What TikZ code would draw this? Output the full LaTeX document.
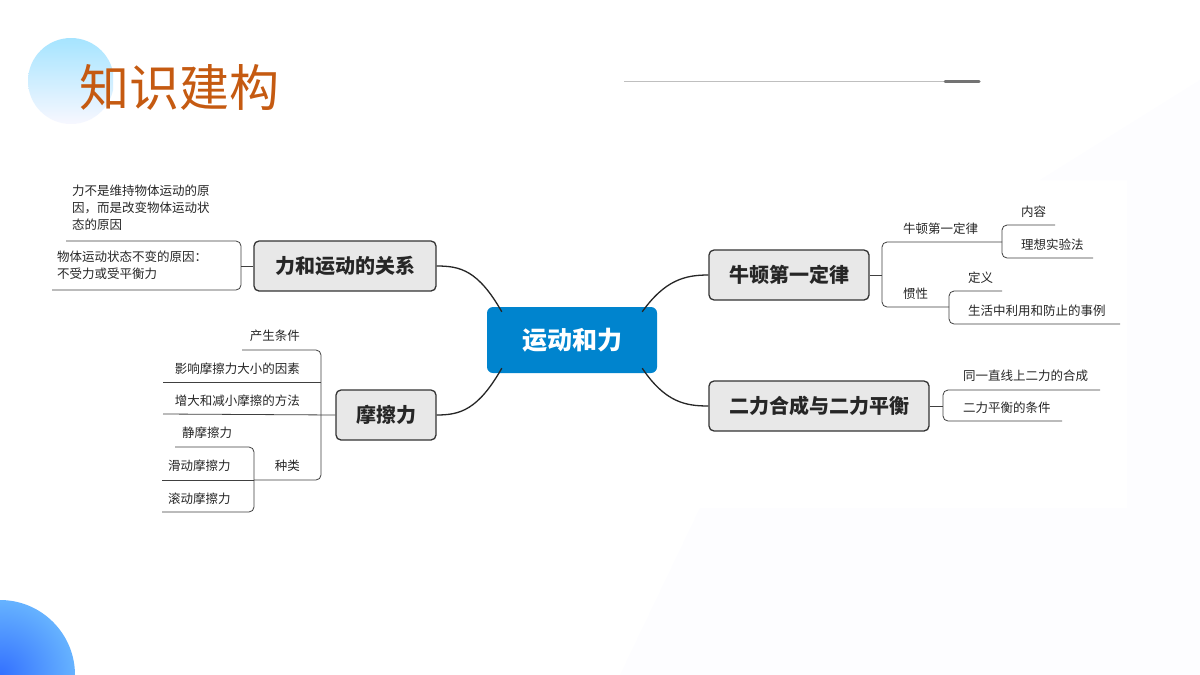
\documentclass[tikz,border=0pt]{standalone}
\usepackage{fontspec}
\setmainfont{Noto Sans CJK SC}
\newfontfamily\cjk{Noto Sans CJK SC}
\begin{document}
\begin{tikzpicture}[x=1pt,y=-1pt,
  box/.style={draw=black!80,line width=1.3pt,fill=black!9,rounded corners=5pt,inner sep=0pt,font=\cjk\fontsize{20}{22}\selectfont\bfseries,text=black!85},
  lbl/.style={inner sep=0pt,font=\cjk\fontsize{12.5}{17}\selectfont,text=black!85},
  ln/.style={draw=black!75,line width=0.8pt,rounded corners=5pt},
  main/.style={draw=black!85,line width=1.3pt}]
\useasboundingbox (0,0) rectangle (1200,675);
\fill[white] (0,0) rectangle (1200,675);
% faint background
\fill[blue!40!white,opacity=0.02] (1040,180) -- (1127,180) -- (1127,508) -- (700,508) -- (620,675) -- (1200,675) -- (1200,80) -- cycle;
% header decorations
\begin{scope}
\clip (0,0) rectangle (113,123);
\shade[top color=blue!30!cyan!35,bottom color=blue!3] (71,81) circle (43);
\end{scope}
\node[anchor=west,inner sep=0pt,font=\cjk\fontsize{50}{54}\selectfont,text={rgb,255:red,197;green,90;blue,17}] (title) at (79,87) {知识建构};
\draw[black!25,line width=0.7pt] (624,81) coordinate (l1) -- (945,81) coordinate (l2);
\draw[black!55,line width=3pt,line cap=round] (l2) -- (979,81) coordinate (l3);
\shade[inner color=blue!70!cyan!80,outer color=blue!50!cyan!60] (0,675) circle (75);
% central
\node[fill={rgb,255:red,0;green,132;blue,206},rounded corners=6pt,minimum width=170pt,minimum height=66pt,inner sep=0pt,font=\cjk\fontsize{25}{28}\selectfont\bfseries,text=white] (c) at (572,340) {运动和力};
% main boxes
\node[box,minimum width=182pt,minimum height=50pt] (A) at (345,266) {力和运动的关系};
\node[box,minimum width=100pt,minimum height=50pt] (B) at (386,415) {摩擦力};
\node[box,minimum width=160pt,minimum height=50pt] (C) at (789,275) {牛顿第一定律};
\node[box,minimum width=220pt,minimum height=50pt] (D) at (819,406) {二力合成与二力平衡};
\draw[main] (c.north west)+(15,5) .. controls (478,270) and (460,266) .. (A.east);
\draw[main] (c.south west)+(15,-5) .. controls (478,410) and (460,415) .. (B.east);
\draw[main] (c.north east)+(-15,5) .. controls (665,280) and (685,275) .. (C.west);
\draw[main] (c.south east)+(-15,-5) .. controls (665,402) and (685,406) .. (D.west);
% A children
\node[lbl,anchor=north west,align=left] (a1) at (72,185) {力不是维持物体运动的原\\因，而是改变物体运动状\\态的原因};
\node[lbl,anchor=north west,align=left] (a2) at (57,251) {物体运动状态不变的原因：\\不受力或受平衡力};
\draw[ln] (A.west) -- (241,266);
\draw[ln] (66,241) -- (241,241) -- (241,290) -- (52,290);
% B children
\node[lbl,anchor=east] (b1) at (300,336) {产生条件};
\node[lbl,anchor=east] (b2) at (300,369) {影响摩擦力大小的因素};
\node[lbl,anchor=east] (b3) at (300,401) {增大和减小摩擦的方法};
\node[lbl,anchor=east] (b4) at (300,466) {种类};
\draw[ln] (B.west) -- (163,414);
\draw[ln] (242,350) -- (321,350) -- (321,480) -- (254,480);
\draw[ln] (163,382) -- (321,382);
\node[lbl,anchor=west] (b5) at (182,433) {静摩擦力};
\node[lbl,anchor=west] (b6) at (168,466) {滑动摩擦力};
\node[lbl,anchor=west] (b7) at (168,499) {滚动摩擦力};
\draw[ln] (175,447) -- (254,447) -- (254,512) -- (162,512);
\draw[ln] (254,480) -- (162,480);
% C children
\draw[ln] (C.east) -- (882,275);
\node[lbl,anchor=west] (c1) at (903,229) {牛顿第一定律};
\node[lbl,anchor=west] (c2) at (903,294) {惯性};
\draw[ln] (1002,242) -- (882,242) -- (882,307) -- (949,307);
\node[lbl,anchor=west] (c3) at (1021,212) {内容};
\node[lbl,anchor=west] (c4) at (1021,245) {理想实验法};
\draw[ln] (1055,225) -- (1002,225) -- (1002,258) -- (1093,258);
\node[lbl,anchor=west] (c5) at (968,278) {定义};
\node[lbl,anchor=west] (c6) at (968,311) {生活中利用和防止的事例};
\draw[ln] (1002,291) -- (949,291) -- (949,324) -- (1120,324);
% D children
\draw[ln] (D.east) -- (943,406);
\node[lbl,anchor=west] (d1) at (963,376) {同一直线上二力的合成};
\node[lbl,anchor=west] (d2) at (963,408) {二力平衡的条件};
\draw[ln] (1100,390) -- (943,390) -- (943,421) -- (1062,421);
\end{tikzpicture}
\end{document}
